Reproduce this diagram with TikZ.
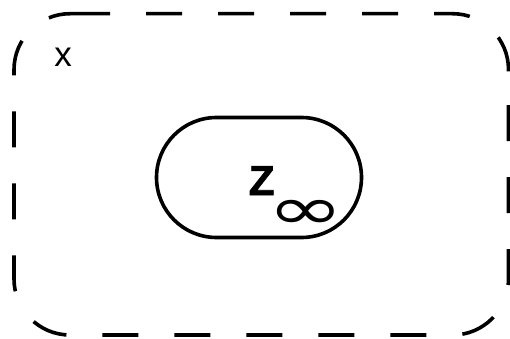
\documentclass[tikz,border=0pt]{standalone}
\usepackage{fontspec}
\setmainfont{Liberation Sans}
\newfontfamily\zfont{Liberation Sans Bold}[FakeBold=1.6]
\newfontfamily\symfont{DejaVu Sans}
\usetikzlibrary{positioning}

\tikzset{
    zonebox/.style={draw, rounded corners=60pt, minimum width=205pt, minimum height=120pt, inner sep=0pt},
    framebox/.style={rounded corners=56pt, dash pattern=on 36pt off 36pt}
}

\begin{document}
\begin{tikzpicture}[x=1pt, y=1pt, line width=3.6pt]
    \useasboundingbox (0,0) rectangle (510,338);

    % Dashed outer frame (two runs, to keep the dash phase of each side)
    \coordinate (ftop) at (74,324.3);
    \coordinate (fright) at (508.5,252);
    \draw[framebox] (ftop) -- (508.5,324.3) -- (fright);
    \draw[framebox, dash phase=53pt] (fright) -- (508.5,3) -- (14,3) -- (14,324.3) -- (ftop);
    \node[anchor=base west, inner sep=0pt, font=\fontsize{35}{35}\selectfont] (xlabel) at (52.5,272) {x};

    % Inner zone
    \node[zonebox] (zinf) at (259,160.5) {};
    \node[anchor=base west, inner sep=0pt, font=\zfont\fontsize{42}{42}\selectfont] (zlabel) at (247,143)
        {Z\kern-7pt\raisebox{-34pt}{\scalebox{1.15}[0.75]{\symfont\fontsize{80}{80}\selectfont ∞}}};
\end{tikzpicture}
\end{document}
